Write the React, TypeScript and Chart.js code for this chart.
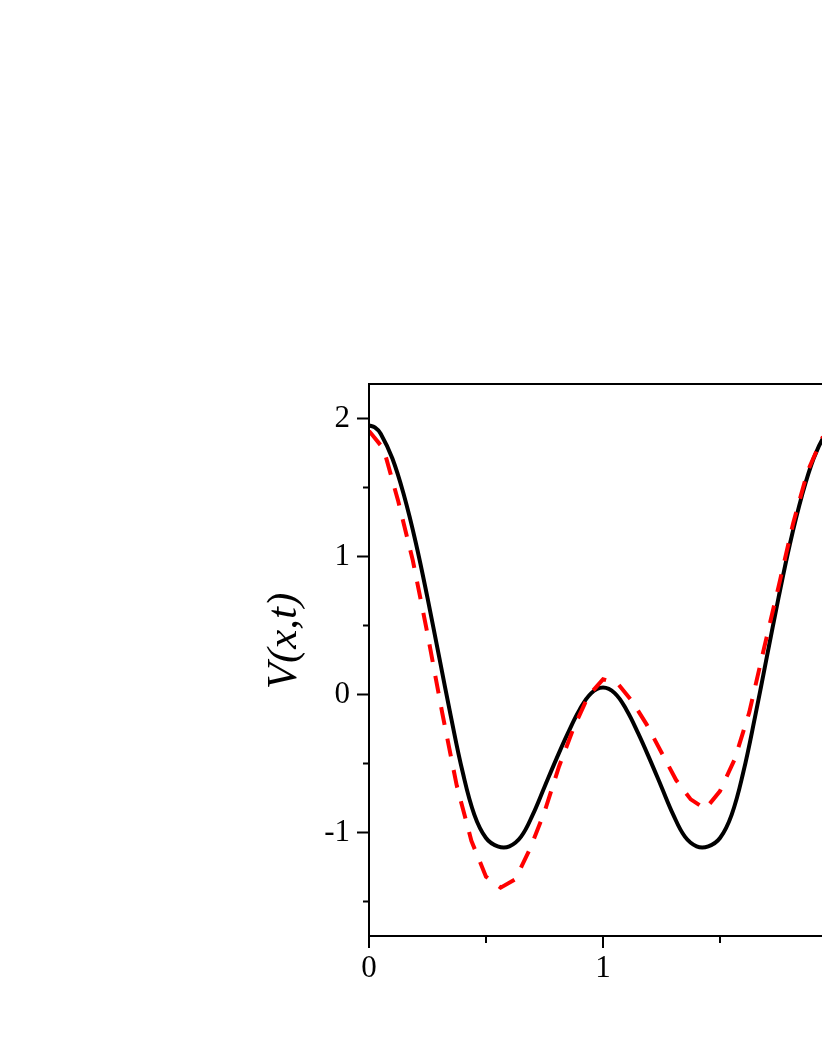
import React, { useEffect, useRef } from "react";
import { Chart, registerables } from "chart.js";

Chart.register(...registerables);

// Solid black curve (smooth)
const xBlack = [
  0, 0.025, 0.05, 0.1, 0.15, 0.2, 0.25, 0.3, 0.35, 0.4, 0.45, 0.5, 0.55, 0.6, 0.65, 0.7, 0.75, 0.8, 0.85, 0.9, 0.95,
  1.0, 1.05, 1.1, 1.15, 1.2, 1.25, 1.3, 1.35, 1.4, 1.45, 1.5, 1.55, 1.6, 1.65, 1.7, 1.75, 1.8, 1.85, 1.9, 1.95, 1.975, 2.0,
];
const yBlack = [
  1.95, 1.935, 1.89, 1.71, 1.44, 1.1, 0.7, 0.27, -0.16, -0.56, -0.87, -1.04, -1.1, -1.1, -1.03, -0.87, -0.67, -0.47, -0.28, -0.11, 0.01,
  0.05, 0.01, -0.11, -0.28, -0.47, -0.67, -0.87, -1.03, -1.1, -1.1, -1.04, -0.87, -0.56, -0.16, 0.27, 0.7, 1.1, 1.44, 1.71, 1.89, 1.935, 1.95,
];

// Dashed red curve (coarse polyline)
const xRed = [
  0, 0.0625, 0.125, 0.1875, 0.25, 0.3125, 0.375, 0.4375, 0.5, 0.5625, 0.625, 0.6875, 0.75, 0.8125, 0.875, 0.9375,
  1.0, 1.0625, 1.125, 1.1875, 1.25, 1.3125, 1.375, 1.4375, 1.5, 1.5625, 1.625, 1.6875, 1.75, 1.8125, 1.875, 1.9375, 2.0,
];
const yRed = [
  1.91, 1.78, 1.4, 0.97, 0.44, -0.13, -0.66, -1.06, -1.32, -1.4, -1.34, -1.12, -0.85, -0.52, -0.24, -0.01,
  0.11, 0.08, -0.05, -0.22, -0.42, -0.62, -0.76, -0.83, -0.7, -0.47, -0.13, 0.33, 0.78, 1.24, 1.62, 1.86, 1.93,
];

const xMajorTicks = [0, 1, 2];
const xMinorTicks = [0.5, 1.5];
const yMajorTicks = [-1, 0, 1, 2];
const yMinorTicks = [-1.5, -0.5, 0.5, 1.5];
const yAxisTitle = "V(x,t)";

const FONT = '"Liberation Serif", "Times New Roman", Times, serif';

const framePlugin = {
  id: "frameAndTicks",
  afterDatasetsDraw(chart: any) {
    const { ctx, chartArea } = chart;
    const xs = chart.scales.x;
    const ys = chart.scales.y;
    const { left, right, top, bottom } = chartArea;
    ctx.save();
    ctx.strokeStyle = "#000";
    ctx.lineWidth = 2;
    ctx.strokeRect(left, top, right - left, bottom - top);
    ctx.beginPath();
    yMajorTicks.forEach((v) => {
      const p = ys.getPixelForValue(v);
      ctx.moveTo(left - 12, p);
      ctx.lineTo(left, p);
    });
    yMinorTicks.forEach((v) => {
      const p = ys.getPixelForValue(v);
      ctx.moveTo(left - 6, p);
      ctx.lineTo(left, p);
    });
    xMajorTicks.forEach((v) => {
      const p = xs.getPixelForValue(v);
      ctx.moveTo(p, bottom);
      ctx.lineTo(p, bottom + 12);
    });
    xMinorTicks.forEach((v) => {
      const p = xs.getPixelForValue(v);
      ctx.moveTo(p, bottom);
      ctx.lineTo(p, bottom + 7);
    });
    ctx.stroke();
    ctx.restore();
  },
  afterDraw(chart: any) {
    const { ctx, chartArea } = chart;
    ctx.save();
    ctx.fillStyle = "#000";
    ctx.font = `italic 43px ${FONT}`;
    ctx.textAlign = "center";
    ctx.textBaseline = "alphabetic";
    const cy = (chartArea.top + chartArea.bottom) / 2 - 19;
    ctx.translate(chartArea.left - 73, cy);
    ctx.rotate(-Math.PI / 2);
    ctx.fillText(yAxisTitle, 0, 0);
    ctx.restore();
  },
};

export default function App() {
  const ref = useRef<HTMLCanvasElement | null>(null);

  useEffect(() => {
    if (!ref.current) return;
    const chart = new Chart(ref.current, {
      type: "line",
      data: {
        datasets: [
          {
            data: xRed.map((x, i) => ({ x, y: yRed[i] })),
            borderColor: "#ff0000",
            borderWidth: 4,
            borderDash: [18, 14],
            pointRadius: 0,
            tension: 0,
            fill: false,
          },
          {
            data: xBlack.map((x, i) => ({ x, y: yBlack[i] })),
            borderColor: "#000000",
            borderWidth: 4,
            pointRadius: 0,
            tension: 0.4,
            fill: false,
          },
        ],
      },
      options: {
        animation: false,
        responsive: false,
        devicePixelRatio: 1,
        layout: { padding: { left: 309, top: 384, right: 163, bottom: 68 } },
        plugins: { legend: { display: false }, tooltip: { enabled: false } },
        scales: {
          x: {
            type: "linear",
            min: 0,
            max: 2,
            afterBuildTicks: (s: any) => {
              s.ticks = xMajorTicks.map((v) => ({ value: v }));
            },
            afterFit: (s: any) => {
              s.height = 60;
              s.paddingLeft = 0;
              s.paddingRight = 0;
            },
            grid: { display: false, drawTicks: false },
            border: { display: false },
            ticks: {
              color: "#000",
              font: { family: FONT, size: 31 },
              padding: 14,
              maxRotation: 0,
              autoSkip: false,
              callback: (v: any) => String(v),
            },
          },
          y: {
            type: "linear",
            min: -1.75,
            max: 2.25,
            afterBuildTicks: (s: any) => {
              s.ticks = yMajorTicks.map((v) => ({ value: v }));
            },
            afterFit: (s: any) => {
              s.width = 60;
              s.paddingTop = 0;
              s.paddingBottom = 0;
            },
            grid: { display: false, drawTicks: false },
            border: { display: false },
            ticks: {
              color: "#000",
              font: { family: FONT, size: 31 },
              padding: 19,
              autoSkip: false,
              callback: (v: any) => String(v),
            },
          },
        },
      },
      plugins: [framePlugin],
    });
    return () => chart.destroy();
  }, []);

  return (
    <div
      style={{
        position: "fixed",
        left: 0,
        top: 0,
        width: 822,
        height: 1064,
        overflow: "hidden",
        background: "#fff",
      }}
    >
      <canvas
        ref={ref}
        width={1000}
        height={1064}
        style={{ position: "absolute", left: 0, top: 0, width: 1000, height: 1064, display: "block" }}
      />
    </div>
  );
}
